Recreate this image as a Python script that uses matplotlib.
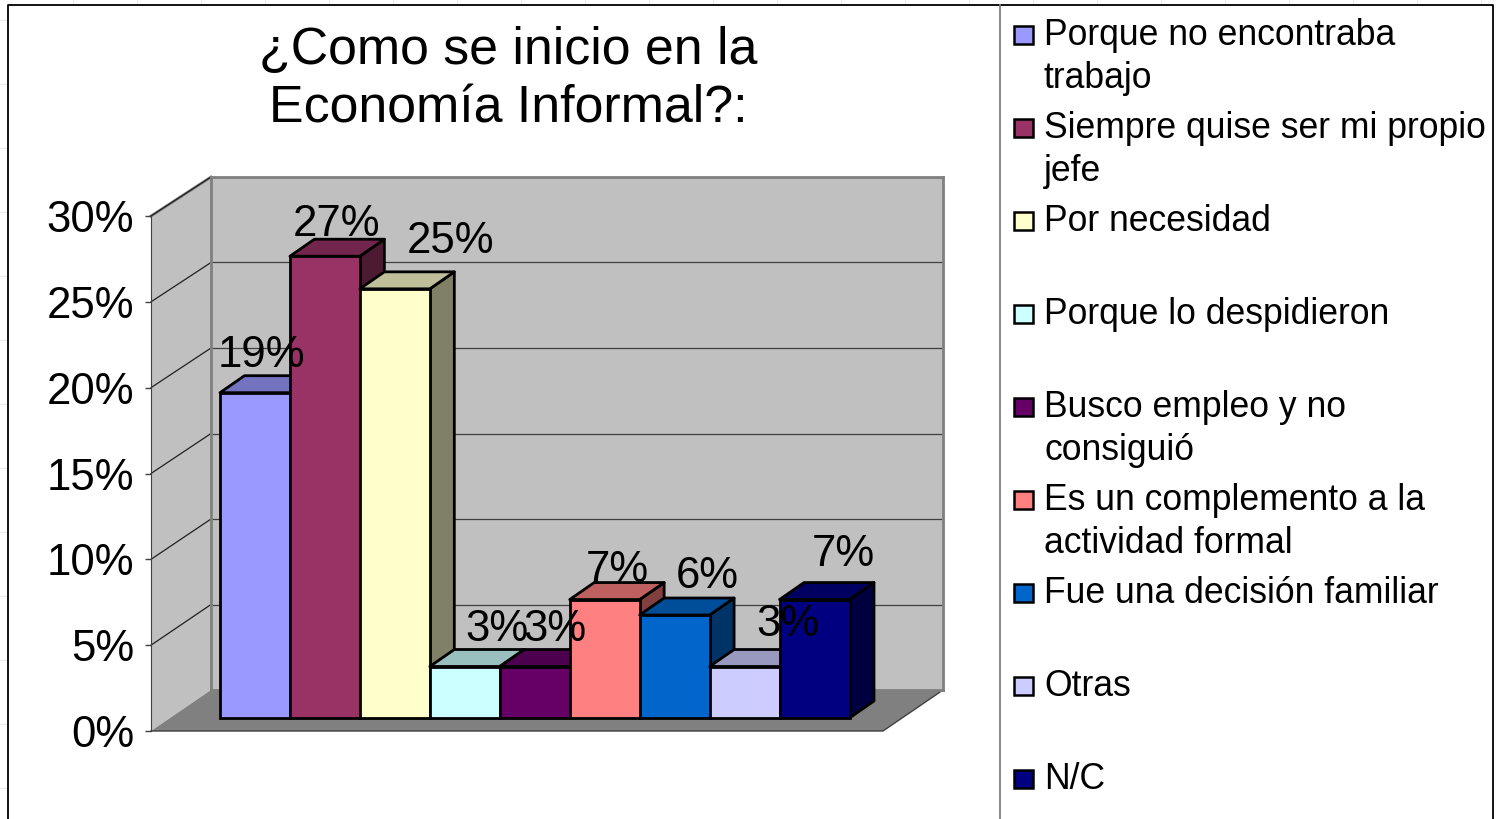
#!/usr/bin/env python3
import matplotlib
matplotlib.use("Agg")
import matplotlib.pyplot as plt
from matplotlib.patches import Polygon, Rectangle
from matplotlib.colors import to_rgb

plt.rcParams['font.family'] = ['Liberation Sans', 'DejaVu Sans']

# data
categories = ["Porque no encontraba\ntrabajo", "Siempre quise ser mi propio\njefe", "Por necesidad",
              "Porque lo despidieron", "Busco empleo y no\nconsiguió", "Es un complemento a la\nactividad formal",
              "Fue una decisión familiar", "Otras", "N/C"]
values = [18.95, 26.9, 25.0, 3.0, 3.0, 6.9, 6.0, 3.0, 6.9]
bar_labels = ["19%", "27%", "25%", "3%", "3%", "7%", "6%", "3%", "7%"]
colors = ["#9999FF", "#993366", "#FFFFCC", "#CCFFFF", "#660066", "#FF8080", "#0066CC", "#CCCCFF", "#000080"]
y_ticks = [0, 5, 10, 15, 20, 25, 30]
title = "¿Como se inicio en la\nEconomía Informal?:"

# layout, in pixels of the 1501x819 picture
W, H = 1501, 819
label_dx = [6, 12, 56, 32, 20, 13, 33, 43, 29]
label_dy = [37, 32, 47, 37, 37, 29, 38, 42, 45]
depth_x, depth_y = 0.35, 0.99  # bar depth in data units


def rect(left, top, right, bottom):
    return [left / W, 1 - bottom / H, (right - left) / W, (bottom - top) / H]


def shade(c, k):
    return tuple(v * k for v in to_rgb(c))


fig = plt.figure(figsize=(W / 100, H / 100), dpi=100)

# page: frame, legend box, side wall and floor
bg = fig.add_axes([0, 0, 1, 1], zorder=0)
bg.set_xlim(0, W)
bg.set_ylim(H, 0)
bg.axis("off")
# faint cell marks of the sheet behind the chart
for x in range(73, W, 64):
    bg.plot([x, x], [0, 4], color="#E6ECF6", lw=0.8)
for y in range(20, H, 64):
    bg.plot([0, 7], [y, y], color="#E6ECF6", lw=0.8)
bg.plot([8, 8, 1493, 1493], [H, 5, 5, H], color="black", lw=1.3)
bg.plot([1000, 1000], [5, H], color="#808080", lw=1.3)
bg.add_patch(Polygon([(151, 216), (211, 177), (211, 690), (151, 731)], fc="#C0C0C0", ec="none"))
bg.add_patch(Polygon([(151, 731), (211, 690), (943, 690), (883, 731)], fc="#808080", ec="none"))
bg.plot([151, 211], [216, 177], color="#808080", lw=2)
bg.plot([151, 883, 943], [731, 731, 690], color="#404040", lw=1)
bg.plot([211, 943], [690, 690], color="#808080", lw=2)

bg.text(508, 80, title, fontsize=37.4, ha="center", va="center", linespacing=1.25, color="black")

for i, (name, c) in enumerate(zip(categories, colors)):
    y = 35 + 93 * i
    bg.add_patch(Rectangle((1014, y - 9), 19, 18, fc=c, ec="black", lw=1.8))
    bg.text(1044, y - 17, name, fontsize=25.6, ha="left", va="top", linespacing=1.3, color="black")

# back wall
back = fig.add_axes(rect(211, 177, 943, 690), zorder=1)
back.set_facecolor("#C0C0C0")
back.set_xlim(0, 1)
back.set_ylim(0, 30)
back.set_xticks([])
back.set_yticks(y_ticks)
back.tick_params(left=False, labelleft=False)
back.grid(axis="y", color="#404040", lw=0.9)
back.set_axisbelow(True)
for s in back.spines.values():
    s.set_color("#808080")
    s.set_linewidth(2)

# front axis with the percent ticks
front = fig.add_axes(rect(151, 216, 883, 731), zorder=2)
front.patch.set_alpha(0)
front.set_xlim(0, 1)
front.set_ylim(0, 30)
front.set_xticks([])
front.set_yticks(y_ticks)
front.set_yticklabels([f"{v}%" for v in y_ticks], fontsize=31.5)
front.tick_params(axis="y", length=4, width=1, color="#404040", pad=8)
for s in ("top", "right", "bottom"):
    front.spines[s].set_visible(False)
front.spines["left"].set_color("#404040")

# wall gridlines join the front axis to the back wall
for v in y_ticks[1:]:
    p0 = bg.transData.inverted().transform(front.transData.transform((0, v)))
    p1 = bg.transData.inverted().transform(back.transData.transform((0, v)))
    bg.plot([p0[0], p1[0]], [p0[1], p1[1]], color="#202020", lw=0.9, zorder=5)

# bars
ax = fig.add_axes(rect(220, 203, 849.5, 718), zorder=3)
ax.patch.set_alpha(0)
ax.axis("off")
ax.set_xlim(0, len(values))
ax.set_ylim(0, 30)
for i, (v, c) in enumerate(zip(values, colors)):
    ax.add_patch(Polygon([(i + 1, 0), (i + 1, v), (i + 1 + depth_x, v + depth_y), (i + 1 + depth_x, depth_y)],
                         fc=shade(c, 0.5), ec="black", lw=2, joinstyle="round", clip_on=False))
    ax.add_patch(Polygon([(i, v), (i + 1, v), (i + 1 + depth_x, v + depth_y), (i + depth_x, v + depth_y)],
                         fc=shade(c, 0.75), ec="black", lw=2, joinstyle="round", clip_on=False))
    ax.bar(i, v, width=1, align="edge", color=c, edgecolor="black", lw=2, clip_on=False)
for i, (v, t) in enumerate(zip(values, bar_labels)):
    ax.annotate(t, (i + 0.5, v), xytext=(label_dx[i] * 0.72, label_dy[i] * 0.72), textcoords="offset points",
                fontsize=31.5, ha="center", va="center", color="black", annotation_clip=False, zorder=10)

fig.savefig("out.png", dpi=100)
